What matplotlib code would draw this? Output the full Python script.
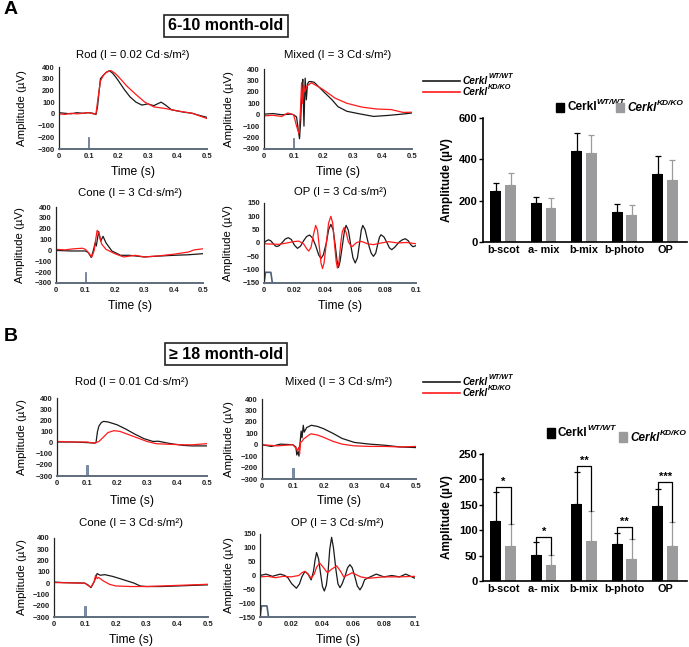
import numpy as np
import matplotlib
matplotlib.use('Agg')
from matplotlib import pyplot as plt

plt.rcParams['font.family'] = ['Liberation Sans', 'DejaVu Sans']

# ---------------- ERG traces (time in s, amplitude in uV) ----------------
# panel A, 6-10 month-old
rodA_wt_t = [0, 0.02, 0.04, 0.06, 0.08, 0.1, 0.115, 0.125, 0.13, 0.135, 0.14, 0.15, 0.16, 0.17, 0.18, 0.19, 0.2, 0.22,
             0.24, 0.26, 0.28, 0.3, 0.32, 0.345, 0.36, 0.38, 0.4, 0.42, 0.45, 0.47, 0.5]
rodA_wt = [10, 5, 0, 10, 5, 10, 5, -5, 60, 180, 300, 330, 355, 368, 350, 320, 285, 210,
           145, 100, 75, 85, 70, 100, 75, 35, 25, 15, 5, -10, -30]
rodA_ko_t = [0, 0.02, 0.04, 0.06, 0.08, 0.1, 0.115, 0.125, 0.13, 0.14, 0.15, 0.16, 0.175, 0.19, 0.2, 0.23, 0.26,
             0.29, 0.32, 0.36, 0.4, 0.45, 0.5]
rodA_ko = [0, -5, 5, 0, 5, 10, 0, 0, 100, 280, 330, 355, 370, 345, 320, 235, 165, 100, 60, 45, 25, 5, -40]

mixA_wt_t = [0, 0.03, 0.06, 0.09, 0.1, 0.11, 0.115, 0.12, 0.124, 0.128, 0.131, 0.135, 0.139, 0.143, 0.147, 0.152,
             0.16, 0.17, 0.2, 0.23, 0.25, 0.28, 0.32, 0.37, 0.42, 0.47, 0.5]
mixA_wt = [5, 10, 0, 5, 0, -20, -120, -210, -50, 220, 310, -100, 320, 130, 270, 290,
           290, 283, 205, 130, 70, 30, 9, -15, -6, 6, 15]
mixA_ko_t = [0, 0.03, 0.06, 0.08, 0.1, 0.11, 0.118, 0.123, 0.127, 0.13, 0.134, 0.138, 0.145, 0.16, 0.2, 0.24,
             0.28, 0.33, 0.38, 0.43, 0.47, 0.5]
mixA_ko = [-10, -5, -15, 15, 0, -100, -165, 30, 280, 100, 260, 200, 250, 280, 220, 145, 100, 67, 50, 45, 20, 22]

coneA_wt_t = [0, 0.05, 0.1, 0.11, 0.12, 0.128, 0.133, 0.137, 0.145, 0.152, 0.16, 0.17, 0.19, 0.22, 0.25, 0.3,
              0.35, 0.4, 0.45, 0.5]
coneA_wt = [0, -5, -5, -20, -65, 10, 70, 40, 175, 85, 130, 70, -5, -45, -45, -60, -52, -45, -40, -30]
coneA_ko_t = [0, 0.03, 0.06, 0.09, 0.1, 0.11, 0.122, 0.13, 0.135, 0.14, 0.147, 0.155, 0.17, 0.2, 0.23, 0.27,
              0.3, 0.35, 0.4, 0.45, 0.47, 0.5]
coneA_ko = [10, 5, 15, 20, 10, -20, -60, 0, 100, 185, 150, 60, 10, -30, -60, -45, -60, -50, -35, -15, 5, 15]

opA_wt_t = [0, 0.0015, 0.003, 0.0045, 0.006, 0.0075, 0.0085, 0.010, 0.012, 0.014, 0.016, 0.018, 0.020, 0.022,
            0.024, 0.026, 0.028, 0.030, 0.032, 0.034, 0.036, 0.0375, 0.039, 0.041, 0.0425, 0.044, 0.0455,
            0.047, 0.048, 0.049, 0.050, 0.0515, 0.053, 0.054, 0.0555, 0.057, 0.0585, 0.060, 0.0615, 0.063,
            0.064, 0.065, 0.0665, 0.069, 0.0705, 0.072, 0.0735, 0.075, 0.076, 0.077, 0.079, 0.081, 0.0825,
            0.084, 0.086, 0.089, 0.091, 0.093, 0.095, 0.0965, 0.098, 0.1]
opA_wt = [0, 8, 12, 8, -2, -11, -13, -10, 2, 15, 20, 13, -8, -20,
          -12, 8, 24, 30, 18, -10, -45, -58, -45, 0, 50, 70, 50,
          -15, -65, -92, -70, -12, 48, 66, 48, -5, -55, -75, -55, 5,
          48, 66, 50, -10, -38, -50, -38, 0, 22, 31, 22, 0, -18,
          -25, -16, 4, 12, 16, 8, -6, -14, -10]
opA_ko_t = [0, 0.005, 0.01, 0.015, 0.019, 0.023, 0.026, 0.0285, 0.0295, 0.031, 0.0325, 0.034, 0.0352, 0.0365,
            0.0375, 0.0385, 0.0395, 0.041, 0.0425, 0.044, 0.0452, 0.0465, 0.0475, 0.0483, 0.0493, 0.0505,
            0.0515, 0.0527, 0.054, 0.0555, 0.0576, 0.059, 0.061, 0.064, 0.066, 0.068, 0.072, 0.077, 0.082,
            0.088, 0.094, 0.1]
opA_ko = [-3, -4, -5, 0, 5, 7, -3, -25, -30, -15, 30, 66, 48, -20,
          -75, -96, -75, 0, 75, 100, 75, -10, -70, -94, -72, 0,
          42, 58, 40, 5, -15, -8, 2, 6, 2, -3, -6, 0, 5,
          0, 2, -3]

# panel B, >= 18 month-old
rodB_wt_t = [0, 0.05, 0.1, 0.125, 0.13, 0.135, 0.14, 0.148, 0.155, 0.17, 0.2, 0.23, 0.26, 0.29, 0.32, 0.338,
             0.36, 0.38, 0.42, 0.45, 0.5]
rodB_wt = [5, 5, 0, -5, 0, 100, 150, 180, 190, 185, 160, 120, 75, 35, 10, 12, 0, -10, -25, -30, -30]
rodB_ko_t = [0, 0.05, 0.1, 0.125, 0.14, 0.155, 0.17, 0.19, 0.21, 0.24, 0.27, 0.3, 0.33, 0.37, 0.42, 0.45, 0.5]
rodB_ko = [10, 5, 5, -5, 10, 50, 90, 107, 100, 70, 40, 10, -10, -15, -20, -20, -10]

mixB_wt_t = [0, 0.03, 0.06, 0.1, 0.11, 0.113, 0.117, 0.12, 0.123, 0.127, 0.13, 0.134, 0.137, 0.145, 0.16,
             0.18, 0.2, 0.23, 0.26, 0.3, 0.35, 0.4, 0.45, 0.5]
mixB_wt = [0, -15, 5, 0, -20, -90, -60, -100, 0, 120, 60, 170, 110, 150, 170,
           160, 140, 100, 55, 20, 5, -5, -20, -25]
mixB_ko_t = [0, 0.05, 0.1, 0.11, 0.115, 0.12, 0.122, 0.125, 0.13, 0.135, 0.14, 0.155, 0.16, 0.18, 0.2, 0.23,
             0.26, 0.3, 0.35, 0.4, 0.45, 0.5]
mixB_ko = [0, -10, 0, -30, -50, -20, -80, 20, 30, 50, 60, 90, 95, 85, 65, 30, 5, -10, -15, -15, -20, -15]

coneB_wt_t = [0, 0.03, 0.1, 0.11, 0.12, 0.13, 0.137, 0.14, 0.15, 0.165, 0.19, 0.22, 0.26, 0.28, 0.3, 0.35,
              0.4, 0.45, 0.5]
coneB_wt = [10, 5, 0, -15, -40, 10, 60, 85, 70, 75, 60, 35, 0, -25, -30, -30, -25, -20, -15]
coneB_ko_t = [0, 0.1, 0.11, 0.12, 0.13, 0.135, 0.14, 0.145, 0.16, 0.18, 0.2, 0.25, 0.3, 0.35, 0.4, 0.45, 0.5]
coneB_ko = [5, 0, -20, -35, 10, 70, 40, 50, 20, -10, -25, -30, -30, -25, -20, -15, -10]

opB_wt_t = [0, 0.004, 0.008, 0.013, 0.016, 0.018, 0.0205, 0.0235, 0.0255, 0.027, 0.029, 0.031, 0.033, 0.0345,
            0.0355, 0.0365, 0.0378, 0.039, 0.0403, 0.0415, 0.0428, 0.044, 0.045, 0.0462, 0.0474, 0.049,
            0.0503, 0.0516, 0.053, 0.055, 0.0565, 0.058, 0.0595, 0.061, 0.0628, 0.0645, 0.066, 0.0675,
            0.07, 0.075, 0.08, 0.085, 0.09, 0.094, 0.1]
opB_wt = [0, 5, -3, 5, 0, -8, -30, -46, -30, -5, 15, 5, -16, 15,
          55, 83, 60, 10, -40, -56, -35, 20, 95, 138, 100, 20,
          -30, -44, -30, 0, 28, 39, 28, 0, -38, -52, -38, -15,
          -8, 5, -5, 0, -5, 5, -10]
opB_ko_t = [0, 0.005, 0.01, 0.015, 0.02, 0.025, 0.027, 0.029, 0.031, 0.033, 0.035, 0.0365, 0.0385, 0.0405,
            0.0435, 0.046, 0.0495, 0.052, 0.054, 0.057, 0.0595, 0.062, 0.065, 0.07, 0.08, 0.09, 0.1]
opB_ko = [-5, -3, -8, -3, -5, 0, 10, 15, 5, -10, 5, 30, 45, 32,
          10, 22, 35, 15, -5, 3, 10, 3, -5, -10, -5, -5, -3]

# flash stimulus markers
stim_t = 0.1
stim_lo, stim_hi = -300, -200
op_stim_t = [0, 0.001, 0.0045, 0.0055]
op_stim_v = [-150, -110, -110, -150]

# ---------------- bar chart data ----------------
groups = ['b-scot', 'a- mix', 'b-mix', 'b-photo', 'OP']
A_wt = [248, 190, 441, 143, 328]
A_wt_err = [39, 26, 86, 42, 89]
A_ko = [276, 165, 431, 133, 302]
A_ko_err = [56, 46, 85, 44, 94]
B_wt = [118, 51, 151, 72, 148]
B_wt_err = [58, 25, 63, 23, 34]
B_ko = [69, 32, 79, 43, 68]
B_ko_err = [43, 19, 59, 39, 48]
B_stars = ['*', '*', '**', '**', '***']
B_bracket = [186, 87, 227, 107, 195]

W, H = 689, 647
fig = plt.figure(figsize=(W / 100, H / 100), dpi=100)

def ax_px(l, t, r, b):
    return fig.add_axes([l / W, 1 - b / H, (r - l) / W, (b - t) / H])

def txt(x, y, s, **kw):
    return fig.text(x / W, 1 - y / H, s, **kw)

STIM = '#7d8fa6'
GRAY = '#9b9b9d'

def erg(box, t1, v1, t2, v2, title, title_y, ylab_x, xlab_y, op=False):
    ax = ax_px(*box)
    ax.plot(t1, v1, color='#1a1a1a', lw=0.9)
    ax.plot(t2, v2, color='#ff1a1a', lw=0.9)
    if op:
        ax.plot(op_stim_t, op_stim_v, color='#4a5f78', lw=1.2)
        ax.set_xlim(0, 0.1)
        ax.set_ylim(-150, 150)
        ax.set_xticks([0, 0.02, 0.04, 0.06, 0.08, 0.1])
        ax.set_xticklabels(['0', '0.02', '0.04', '0.06', '0.08', '0.1'])
        ax.set_yticks(range(-150, 151, 50))
    else:
        ax.bar(stim_t, stim_hi - stim_lo, bottom=stim_lo, width=0.006, color=STIM,
               edgecolor='#5a6e88', lw=0.5)
        ax.set_xlim(0, 0.5)
        ax.set_ylim(-300, 400)
        ax.set_xticks([0, 0.1, 0.2, 0.3, 0.4, 0.5])
        ax.set_xticklabels(['0', '0.1', '0.2', '0.3', '0.4', '0.5'])
        ax.set_yticks(range(-300, 401, 100))
    for s in ['top', 'right']:
        ax.spines[s].set_visible(False)
    ax.spines['left'].set_color('#222222')
    ax.spines['left'].set_linewidth(0.9)
    ax.spines['bottom'].set_color('#5d6b7c')
    ax.spines['bottom'].set_linewidth(1.4)
    ax.tick_params(length=0, labelsize=5.5, pad=3)
    for lb in ax.get_xticklabels() + ax.get_yticklabels():
        lb.set_fontweight('bold')
        lb.set_color('#222222')
    cx = (box[0] + box[2]) / 2
    txt(cx, title_y, title, ha='center', va='center', fontsize=8.2)
    txt(ylab_x, (box[1] + box[3]) / 2, 'Amplitude (µV)', ha='center', va='center', rotation=90, fontsize=8.2)
    txt(cx, xlab_y, 'Time (s)', ha='center', va='center', fontsize=8.7)
    return ax

# panel A traces
erg((59, 67, 207, 149), rodA_wt_t, rodA_wt, rodA_ko_t, rodA_ko, 'Rod (I = 0.02 Cd·s/m²)', 55, 22, 172)
erg((264, 69, 412, 149), mixA_wt_t, mixA_wt, mixA_ko_t, mixA_ko, 'Mixed (I = 3 Cd·s/m²)', 55, 229, 172)
erg((56, 207, 203, 283), coneA_wt_t, coneA_wt, coneA_ko_t, coneA_ko, 'Cone (I = 3 Cd·s/m²)', 193, 20, 306)
erg((264, 203, 416, 283), opA_wt_t, opA_wt, opA_ko_t, opA_ko, 'OP (I = 3 Cd·s/m²)', 192, 228, 306, op=True)
# panel B traces
erg((57, 398, 207, 476), rodB_wt_t, rodB_wt, rodB_ko_t, rodB_ko, 'Rod (I = 0.01 Cd·s/m²)', 382, 22, 501)
erg((262, 399, 416, 479), mixB_wt_t, mixB_wt, mixB_ko_t, mixB_ko, 'Mixed (I = 3 Cd·s/m²)', 382, 229, 501)
erg((54, 538, 208, 617), coneB_wt_t, coneB_wt, coneB_ko_t, coneB_ko, 'Cone (I = 3 Cd·s/m²)', 523, 22, 640)
erg((260, 534, 415, 617), opB_wt_t, opB_wt, opB_ko_t, opB_ko, 'OP (I = 3 Cd·s/m²)', 523, 229, 640, op=True)

# panel letters and age boxes
txt(4, 10, 'A', fontsize=14, fontweight='bold', va='center')
txt(4, 337, 'B', fontsize=14, fontweight='bold', va='center')
for y, s in [(26, '6-10 month-old'), (354, '≥ 18 month-old')]:
    txt(226, y, s, ha='center', va='center', fontsize=11.5, fontweight='bold',
        bbox=dict(boxstyle='square,pad=0.25', fc='white', ec='#222222', lw=1.2))

def sup_text(x, y, base, sup, fs, sfs, style='italic'):
    t = txt(x, y, base, fontsize=fs, fontweight='bold', fontstyle=style, va='center')
    plt.annotate(sup, xy=(1.0, 0.62), xycoords=t, fontsize=sfs, fontweight='bold',
                 fontstyle='italic', va='bottom', ha='left', annotation_clip=False)
    return t

# line legends next to trace panels
for y0 in [81, 382]:
    fig.add_artist(plt.Line2D([423 / W, 460 / W], [1 - y0 / H, 1 - y0 / H], color='#1a1a1a', lw=1.2))
    fig.add_artist(plt.Line2D([423 / W, 460 / W], [1 - (y0 + 11) / H, 1 - (y0 + 11) / H], color='#ff1a1a', lw=1.2))
    sup_text(463, y0, 'Cerkl', 'WT/WT', 7.2, 5.2)
    sup_text(463, y0 + 11, 'Cerkl', 'KD/KO', 7.2, 5.2)

def bars(box, wt, wt_err, ko, ko_err, ymax, ystep):
    ax = ax_px(*box)
    x = np.arange(len(groups))
    ax.bar(x - 0.18, wt, width=0.27, color='black', yerr=[np.zeros(5), wt_err],
           error_kw=dict(ecolor='black', capsize=2.5, elinewidth=0.9, capthick=0.9))
    ax.bar(x + 0.18, ko, width=0.27, color=GRAY, yerr=[np.zeros(5), ko_err],
           error_kw=dict(ecolor=GRAY, capsize=2.5, elinewidth=0.9, capthick=0.9))
    ax.set_xlim(-0.5, 4.54)
    ax.set_ylim(0, ymax)
    ax.set_yticks(np.arange(0, ymax + 1, ystep))
    ax.set_xticks(x)
    ax.set_xticklabels(groups)
    for s in ['top', 'right']:
        ax.spines[s].set_visible(False)
    ax.spines['left'].set_linewidth(1.2)
    ax.spines['bottom'].set_linewidth(1.2)
    ax.tick_params(axis='x', length=0, labelsize=7.8, pad=2)
    ax.tick_params(axis='y', length=3, width=1, labelsize=8, pad=1)
    for lb in ax.get_xticklabels() + ax.get_yticklabels():
        lb.set_fontweight('bold')
    txt(box[0] - 36, (box[1] + box[3]) / 2, 'Amplitude (µV)', rotation=90, ha='center', va='center',
        fontsize=8.5, fontweight='bold')
    return ax

axA = bars((483, 118, 687, 242), A_wt, A_wt_err, A_ko, A_ko_err, 600, 200)
fig.patches.append(plt.Rectangle((556 / W, 1 - 112 / H), 8 / W, 9 / H, transform=fig.transFigure, color='black'))
sup_text(567, 107, 'Cerkl', 'WT/WT', 8.5, 6, style='normal')
fig.patches.append(plt.Rectangle((616 / W, 1 - 112 / H), 8 / W, 9 / H, transform=fig.transFigure, color=GRAY))
sup_text(627, 108, 'Cerkl', 'KD/KO', 8.5, 6)

axB = bars((483, 454, 687, 581), B_wt, B_wt_err, B_ko, B_ko_err, 250, 50)
fig.patches.append(plt.Rectangle((547 / W, 1 - 438 / H), 8 / W, 10 / H, transform=fig.transFigure, color='black'))
sup_text(558, 433, 'Cerkl', 'WT/WT', 8.5, 6, style='normal')
fig.patches.append(plt.Rectangle((619 / W, 1 - 442 / H), 8 / W, 10 / H, transform=fig.transFigure, color=GRAY))
sup_text(630, 438, 'Cerkl', 'KD/KO', 8.5, 6)

# significance brackets in panel B
for i in range(5):
    xl, xr = i - 0.18, i + 0.18
    h = B_bracket[i]
    axB.plot([xl, xl, xr, xr], [B_wt[i] + B_wt_err[i], h, h, B_ko[i] + B_ko_err[i]], color='black', lw=0.9)
    axB.text(i, h, B_stars[i], ha='center', va='bottom', fontsize=8, fontweight='bold')

fig.savefig('out.png', dpi=100)
